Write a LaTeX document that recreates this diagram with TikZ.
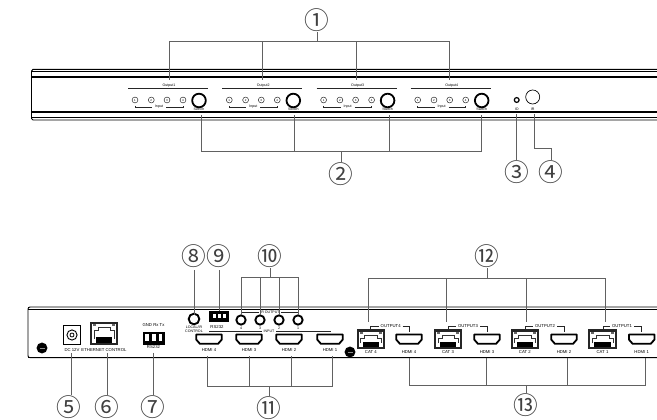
\documentclass[tikz,border=0pt]{standalone}
\usepackage{fontspec}
\setmainfont{Liberation Sans}
\newfontfamily\numfont{Noto Sans CJK JP}
\tikzset{
  x=0.75pt,y=-0.75pt,
  lead/.style={draw=black!62,line width=0.75pt},
  panel/.style={draw=black,line width=0.7pt},
  thick panel/.style={draw=black,line width=1.9pt},
  callout/.style={inner sep=0pt,outer sep=0.5pt,text=black!75,font=\numfont\fontsize{18.5}{18.5}\selectfont},
  tiny label/.style={inner sep=0pt,text=black,font=\fontsize{2.7}{3}\selectfont},
  small label/.style={inner sep=0pt,text=black,font=\fontsize{3.2}{3.7}\selectfont},
  led/.style={circle,draw=black!80,line width=0.4pt,minimum size=4.4pt,inner sep=0pt,font=\fontsize{2.2}{2.2}\selectfont},
  fine/.style={draw=black!85,line width=0.35pt},
  jack/.style={circle,draw=black,line width=1.4pt,minimum size=7pt,inner sep=0pt}
}
\newcommand{\hdmiport}[3]{%
  \coordinate (#3) at (#1,#2);
  \draw[black,line width=1.35pt,line join=round,fill=white]
    ([xshift=-9.6pt,yshift=3.3pt]#3) -- ([xshift=9.6pt,yshift=3.3pt]#3)
    -- ([xshift=9.6pt,yshift=-0.4pt]#3) -- ([xshift=6.8pt,yshift=-3.6pt]#3)
    -- ([xshift=-6.8pt,yshift=-3.6pt]#3) -- ([xshift=-9.6pt,yshift=-0.4pt]#3) -- cycle;
}
\newcommand{\rjport}[4]{%
  \fill[black!85] (#1,#2) rectangle (#3,#4);
  \fill[white] (#1+2.2,#2+2.2) rectangle (#3-2.2,#4-2.2);
  \fill[black!60] (#1+3,#2+2.2) rectangle (#1+6,#2+4.2);
  \fill[black!60] (#3-6,#2+2.2) rectangle (#3-3,#2+4.2);
  \draw[black!80,line width=0.5pt] (#1+4,#4-6) -- (#1+4,#2+9) -- (#1+8,#2+9) -- (#1+8,#2+5.5) -- (#3-8,#2+5.5) -- (#3-8,#2+9) -- (#3-4,#2+9) -- (#3-4,#4-6);
  \fill[black] (#1+6,#4-7.5) rectangle (#3-6,#4-2.2);
}
\begin{document}
\begin{tikzpicture}
\useasboundingbox (0,0) rectangle (657,420);

% --- front panel ---
\draw[panel] (657,69.3) -- (33,69.3) to[out=180,in=90] (31.5,71) -- (31.5,118.5) to[out=-90,in=180] (33,120) -- (657,120);
\draw[panel] (31.5,71.7) -- (657,71.7);
\draw[panel] (31.5,117.3) -- (657,117.3);
\draw[thick panel] (31.5,77) -- (657,77);
\draw[thick panel] (31.5,112) -- (657,112);

\foreach \n/\dx/\o in {1/0/Output1,2/94.3/Output2,3/188.6/Output3,4/282.7/Output4}{
  \draw[fine] (128+\dx,88.3) -- (208+\dx,88.3);
  \node[tiny label] (out\n) at (169+\dx,85.2) {\o};
  \foreach \k/\xx in {1/135,2/151.3,3/167,4/183}
    \node[led] (led\n\k) at (\xx+\dx,100) {\k};
  \node[tiny label] (inp\n) at (159+\dx,107) {Input};
  \draw[fine] (135+\dx,106) -- (135+\dx,107) -- (152+\dx,107);
  \draw[fine] (166+\dx,107) -- (183+\dx,107) -- (183+\dx,106);
  \node[circle,draw=black,line width=1.35pt,minimum size=10.2pt,inner sep=0pt] (sw\n) at (199+\dx,100.5) {};
  \node[tiny label] (swl\n) at (199+\dx,109.3) {Switch};
}
\node[circle,draw=black,line width=0.9pt,minimum size=3.6pt,inner sep=0pt] (io) at (516.7,100) {};
\node[circle,draw=black,line width=0.5pt,minimum size=10.5pt,inner sep=0pt] (ir) at (532.7,97) {};
\node[tiny label] (iol) at (516.7,109.3) {IO};
\node[tiny label] (irl) at (532.7,109.3) {IR};

% --- top callouts ---
\node[callout] (c1) at (317,20) {①};
\node[callout] (c2) at (341,174) {②};
\node[callout] (c3) at (516.7,172) {③};
\node[callout] (c4) at (551,172) {④};
\coordinate (t1) at (169,42); \coordinate (t2) at (262,42);
\coordinate (t3) at (356.5,42); \coordinate (t4) at (449.3,42);
\coordinate (t0) at (317,42);
\draw[lead] (c1) -- (t0);
\draw[lead] (169,80) -- (t1) -- (t4) -- (449.3,80);
\draw[lead] (t2) -- (262,80);
\draw[lead] (t3) -- (356.5,80);
\coordinate (b1) at (201,152); \coordinate (b2) at (294,152);
\coordinate (b3) at (389,152); \coordinate (b4) at (481,152);
\coordinate (b0) at (341,152);
\draw[lead] (201,115) -- (b1) -- (b4) -- (481,115);
\draw[lead] (b2) -- (294,115);
\draw[lead] (b3) -- (389,115);
\draw[lead] (b0) -- (c2);
\draw[lead] (516.7,114) -- (c3);
\draw[lead] (534,114) -- (534,148.5) -- (551,148.5) -- (c4);

% --- rear panel ---
\draw[panel,rounded corners=1.5pt] (657,307) -- (28,307) -- (28,357.7) -- (657,357.7);
\draw[panel] (28,309.3) -- (657,309.3);
\draw[draw=black,line width=0.9pt] (28,357.7) -- (657,357.7);

\foreach \xx/\yy in {42/348,350/352}{
  \fill[black] (\xx,\yy) circle (4.1pt);
  \draw[black!45,line width=0.25pt] (\xx-2.5,\yy) -- (\xx+2.5,\yy);
}

\node[rectangle,draw=black,line width=0.9pt,minimum width=12.5pt,minimum height=14.5pt,inner sep=0pt] (dc) at (72,335) {};
\draw[black,line width=0.7pt] (dc.center) circle (3.8pt);
\draw[black,line width=0.6pt] (dc.center) circle (1.5pt);
\node[small label] (dcl) at (72,350) {DC 12V};

\rjport{90}{321.7}{118}{345}
\node[small label] (ethl) at (104,350) {ETHERNET CONTROL};

\fill[black] (142.7,331.7) rectangle (165,345);
\foreach \xx in {147,153.8,160.6}
  \fill[white] (\xx-1.8,334.5) rectangle (\xx+1.8,341);
\node[small label] (rsa) at (153.5,325) {GND Rx Tx};
\node[small label] (rsb) at (153.5,347.5) {RS232};

\node[jack,minimum size=8pt] (lir) at (194,319) {};
\node[tiny label,align=center] (lirl) at (194,329) {LOCAL/IR\\CONTROL};

\fill[black] (209,310.7) rectangle (229,322.5);
\foreach \xx in {214,219,224}
  \fill[white] (\xx-1.5,314) rectangle (\xx+1.5,318.5);
\node[small label] (rs2) at (217,326.7) {RS232};

\foreach \n/\xx/\t in {a/241/4,b/260/3,c/279/2,d/298/1}{
  \node[jack] (j\n) at (\xx,320) {};
  \node[tiny label] at (\xx,328) {\t};
}
\node[tiny label] (iro) at (270,312) {IR OUTPUT};
\draw[fine] (241,314) -- (241,312) -- (259,312);
\draw[fine] (281,312) -- (298,312) -- (298,314);

\node[tiny label] (inl) at (269,331) {INPUT};
\draw[fine] (209,332.5) -- (209,331) -- (262,331);
\draw[fine] (276,331) -- (330,331) -- (330,332.5);
\draw[fine] (249,331) -- (249,332.5);
\draw[fine] (289,331) -- (289,332.5);

\foreach \n/\xx/\t in {a/209/HDMI 4,b/249/HDMI 3,c/289/HDMI 2,d/330/HDMI 1}{
  \hdmiport{\xx}{339}{hi\n}
  \node[small label] at (\xx,350) {\t};
}

\foreach \n/\l/\r/\t in {a/356.7/385/CAT 4,b/434/462/CAT 3,c/510.7/539/CAT 2,d/588/617/CAT 1}{
  \rjport{\l}{329.5}{\r}{349.5}
  \node[small label] at ({(\l+\r)/2},352.3) {\t};
}
\foreach \n/\xx/\t in {a/409/HDMI 4,b/487/HDMI 3,c/564/HDMI 2,d/641.7/HDMI 1}{
  \hdmiport{\xx}{339}{ho\n}
  \node[small label] at (\xx,352.3) {\t};
}
\foreach \n/\xx/\a/\b/\t in {4/390.7/370.7/409/OUTPUT4,3/468/448/487/OUTPUT3,2/545/525/564/OUTPUT2,1/622/603/641.7/OUTPUT1}{
  \node[small label] (ol\n) at (\xx,326) {\t};
  \draw[fine] (\a,329) -- (\a,326) -- (\xx-12,326);
  \draw[fine] (\xx+12,326) -- (\b,326) -- (\b,332);
}

% --- rear callouts ---
\node[callout] (c5) at (69,407) {⑤};
\node[callout] (c6) at (107,407) {⑥};
\node[callout] (c7) at (153,407) {⑦};
\node[callout] (c8) at (194,256) {⑧};
\node[callout] (c9) at (219,256) {⑨};
\node[callout] (c10) at (270.3,256) {⑩};
\node[callout] (c11) at (269,408) {⑪};
\node[callout] (c12) at (487,256) {⑫};
\node[callout] (c13) at (526,405) {⑬};

\draw[lead] (71,353) -- (71,395);
\draw[lead] (107,353) -- (107,395);
\draw[lead] (153,353) -- (153,395);
\draw[lead] (194,270.5) -- (194,315);
\draw[lead] (219,270.5) -- (219,311);
\draw[lead] (241.5,315) -- (241.5,278) -- (298,278) -- (298,315);
\draw[lead] (260,278) -- (260,315);
\draw[lead] (279,278) -- (279,315);
\draw[lead] (c10) -- (270.3,278);
\draw[lead] (207,356) -- (207,386) -- (332,386) -- (332,356);
\draw[lead] (249,356) -- (249,386);
\draw[lead] (291,356) -- (291,386);
\draw[lead] (269,386) -- (c11);
\draw[lead] (368,322) -- (368,279) -- (605,279) -- (605,322);
\draw[lead] (446,279) -- (446,322);
\draw[lead] (526.7,279) -- (526.7,322);
\draw[lead] (c12) -- (487,279);
\draw[lead] (409,358) -- (409,385) -- (645.7,385) -- (645.7,358);
\draw[lead] (486.7,358) -- (486.7,385);
\draw[lead] (567.7,358) -- (567.7,385);
\draw[lead] (526,385) -- (c13);
\end{tikzpicture}
\end{document}
